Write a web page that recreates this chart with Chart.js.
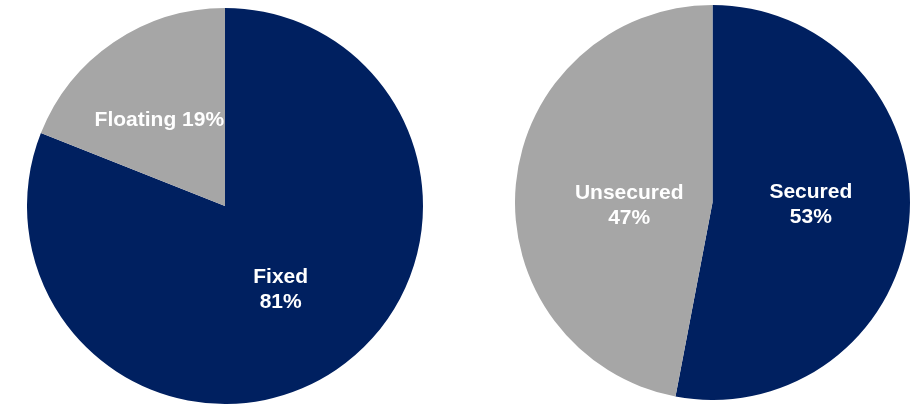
<!DOCTYPE html>
<html>
<head>
<meta charset="utf-8">
<script src="https://cdn.jsdelivr.net/npm/chart.js@4.4.0/dist/chart.umd.min.js"></script>
<style>
    html, body { margin: 0; padding: 0; background: #ffffff; }
    body { width: 920px; height: 404px; position: relative; overflow: hidden; }
    canvas { position: absolute; }
    #rateChart { left: 27px; top: 8px; }
    #securityChart { left: 515px; top: 5px; }
</style>
</head>
<body>
<canvas id="rateChart" width="396" height="396"></canvas>
<canvas id="securityChart" width="395" height="395"></canvas>
<script>
// Chart data
const rateLabels = ['Fixed', 'Floating'];
const rateValues = [81, 19];

const securityLabels = ['Secured', 'Unsecured'];
const securityValues = [53, 47];

const navy = '#002060';
const grey = '#a6a6a6';

// Draws the white "Label NN%" text inside each slice
const sliceLabels = {
    id: 'sliceLabels',
    afterDatasetsDraw(chart, args, opts) {
        const ctx = chart.ctx;
        const meta = chart.getDatasetMeta(0);
        const values = chart.data.datasets[0].data;
        const shifts = opts.shifts || [];
        ctx.save();
        ctx.fillStyle = '#ffffff';
        ctx.font = 'bold 21px "Liberation Sans", Arial, sans-serif';
        ctx.textAlign = 'center';
        ctx.textBaseline = 'middle';
        meta.data.forEach((arc, i) => {
            const mid = (arc.startAngle + arc.endAngle) / 2;
            const r = arc.outerRadius * 0.5;
            const shift = shifts[i] || [0, 0];
            const x = arc.x + Math.cos(mid) * r + shift[0];
            const y = arc.y + Math.sin(mid) * r + shift[1];
            const name = chart.data.labels[i];
            const pct = values[i] + '%';
            // narrow slices get a single line
            const lines = values[i] < 25 ? [name + ' ' + pct] : [name, pct];
            const lh = 25;
            lines.forEach((line, j) => {
                ctx.fillText(line, x, y + (j - (lines.length - 1) / 2) * lh);
            });
        });
        ctx.restore();
    }
};

function makePie(id, labels, values, shifts) {
    const ctx = document.getElementById(id).getContext('2d');
    return new Chart(ctx, {
        type: 'pie',
        data: {
            labels: labels,
            datasets: [{
                data: values,
                backgroundColor: [navy, grey],
                borderWidth: 0
            }]
        },
        options: {
            responsive: false,
            animation: false,
            layout: { padding: 0 },
            plugins: {
                legend: { display: false },
                tooltip: { enabled: false },
                sliceLabels: { shifts: shifts }
            }
        },
        plugins: [sliceLabels]
    });
}

makePie('rateChart', rateLabels, rateValues, [[0, 2], [-10, -4]]);
makePie('securityChart', securityLabels, securityValues, [[0, -7], [15, 12]]);
</script>
</body>
</html>
